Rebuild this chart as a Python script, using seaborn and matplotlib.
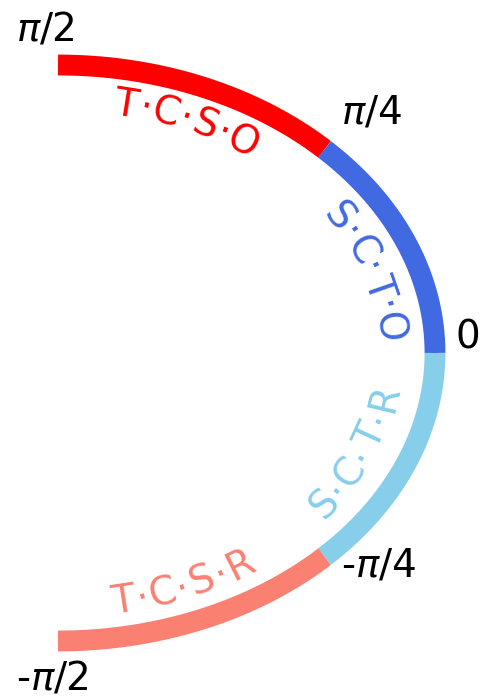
import numpy as np
import matplotlib
matplotlib.use("Agg")
import matplotlib.pyplot as plt
import seaborn as sns

# segment boundaries (radians), from top to bottom
bounds = [np.pi / 2, np.pi / 4, 0.0, -np.pi / 4, -np.pi / 2]
seg_labels = ["T·C·S·O", "S·C·T·O", "S·C·T·R", "T·C·S·R"]
seg_colors = ["red", "royalblue", "skyblue", "salmon"]
tick_labels = ["$\\pi$/2", "$\\pi$/4", "0", "-$\\pi$/4", "-$\\pi$/2"]

# layout
label_mid_deg = [67.4, 19.4, -23.8, -67.9]
label_radius = 0.88
char_step_px = 20.5
tick_radius = 1.12
tick_offsets = [(-9, 1), (11, 9), (-9, 11), (16, 11), (-4, -2)]  # points

sns.set_style("white")
plt.rcParams["font.family"] = ["DejaVu Sans"]

fig = plt.figure(figsize=(4.81, 6.99), dpi=100)
ax = fig.add_axes([0, 0, 1, 1])
ax.set_xlim(-58 / 377, 423 / 377)
ax.set_ylim(-346 / 288, 353 / 288)
ax.axis("off")

# the arc, one segment per colour
for k in range(4):
    th = np.linspace(bounds[k], bounds[k + 1], 200)
    sns.lineplot(x=np.cos(th), y=np.sin(th), sort=False, estimator=None,
                 color=seg_colors[k], linewidth=15, solid_capstyle="butt",
                 ax=ax, legend=False)


def curved_label(ax, text, mid_deg, radius, color, step, size=28):
    th = np.linspace(-np.pi / 2, np.pi / 2, 4001)
    pts = ax.transData.transform(np.c_[radius * np.cos(th), radius * np.sin(th)])
    seg = np.hypot(*np.diff(pts, axis=0).T)
    s = np.concatenate([[0], np.cumsum(seg)])
    s_mid = np.interp(np.radians(mid_deg), th, s)
    sign = -1 if mid_deg > 0 else 1
    grad = np.gradient(pts, axis=0)
    n = len(text)
    for i, ch in enumerate(text):
        si = s_mid + sign * (i - (n - 1) / 2) * step
        t = np.interp(si, s, th)
        gx = np.interp(t, th, grad[:, 0]) * sign
        gy = np.interp(t, th, grad[:, 1]) * sign
        rot = np.degrees(np.arctan2(gy, gx))
        ax.text(radius * np.cos(t), radius * np.sin(t), ch, color=color,
                fontsize=size, ha="center", va="center", rotation=rot,
                rotation_mode="anchor")


for lbl, mid, col in zip(seg_labels, label_mid_deg, seg_colors):
    curved_label(ax, lbl, mid, label_radius, col, char_step_px)

for b, lbl, off in zip(bounds, tick_labels, tick_offsets):
    ax.annotate(lbl, xy=(tick_radius * np.cos(b), tick_radius * np.sin(b)),
                xytext=off, textcoords="offset points",
                ha="center", va="center", fontsize=28, color="black")

fig.savefig("out.png", dpi=100)
